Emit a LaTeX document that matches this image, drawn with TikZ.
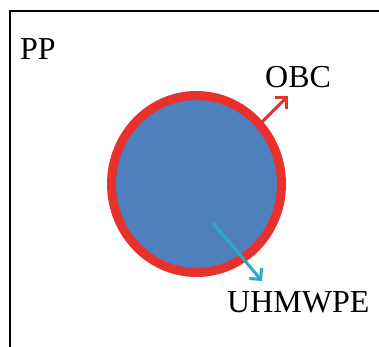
\documentclass[tikz,border=0pt]{standalone}
\usepackage{fontspec}
\setmainfont{Liberation Serif}
\usetikzlibrary{arrows.meta,shapes.geometric}
\definecolor{ringred}{RGB}{232,48,44}
\definecolor{coreblue}{RGB}{79,128,190}
\definecolor{arrteal}{RGB}{44,168,200}
\tikzset{
  lbl/.style={font=\fontsize{32}{32}\selectfont, inner sep=0pt, anchor=base west, text=black},
  pointer/.style={line width=3pt, -{Straight Barb[length=8pt,width=16pt,line width=3pt]}}
}
\begin{document}
\begin{tikzpicture}[x=1pt,y=1pt]
\useasboundingbox (0,0) rectangle (379,-346);
\fill[white] (0,0) rectangle (379,-346);
\begin{scope}
\clip (0,0) rectangle (379,-346);
\draw[line width=2pt] (10,-400) -- (10,-11) -- (400,-11);
\end{scope}
\node[ellipse, draw=ringred, fill=coreblue, line width=9pt, minimum width=170pt, minimum height=177pt, inner sep=0pt] (fibre) at (196.5,-184) {};
\node[lbl] (pp) at (20,-59) {PP};
\node[lbl] (obc) at (265,-87) {OBC};
\node[lbl] (uhm) at (227,-312) {UHMWPE};
\coordinate (obcstart) at (262,-122);
\coordinate (obcend) at (288,-96);
\coordinate (uhmstart) at (213,-223);
\coordinate (uhmend) at (262,-281);
\draw[pointer, ringred] (obcstart) -- (obcend);
\draw[pointer, arrteal] (uhmstart) -- (uhmend);
\end{tikzpicture}
\end{document}
